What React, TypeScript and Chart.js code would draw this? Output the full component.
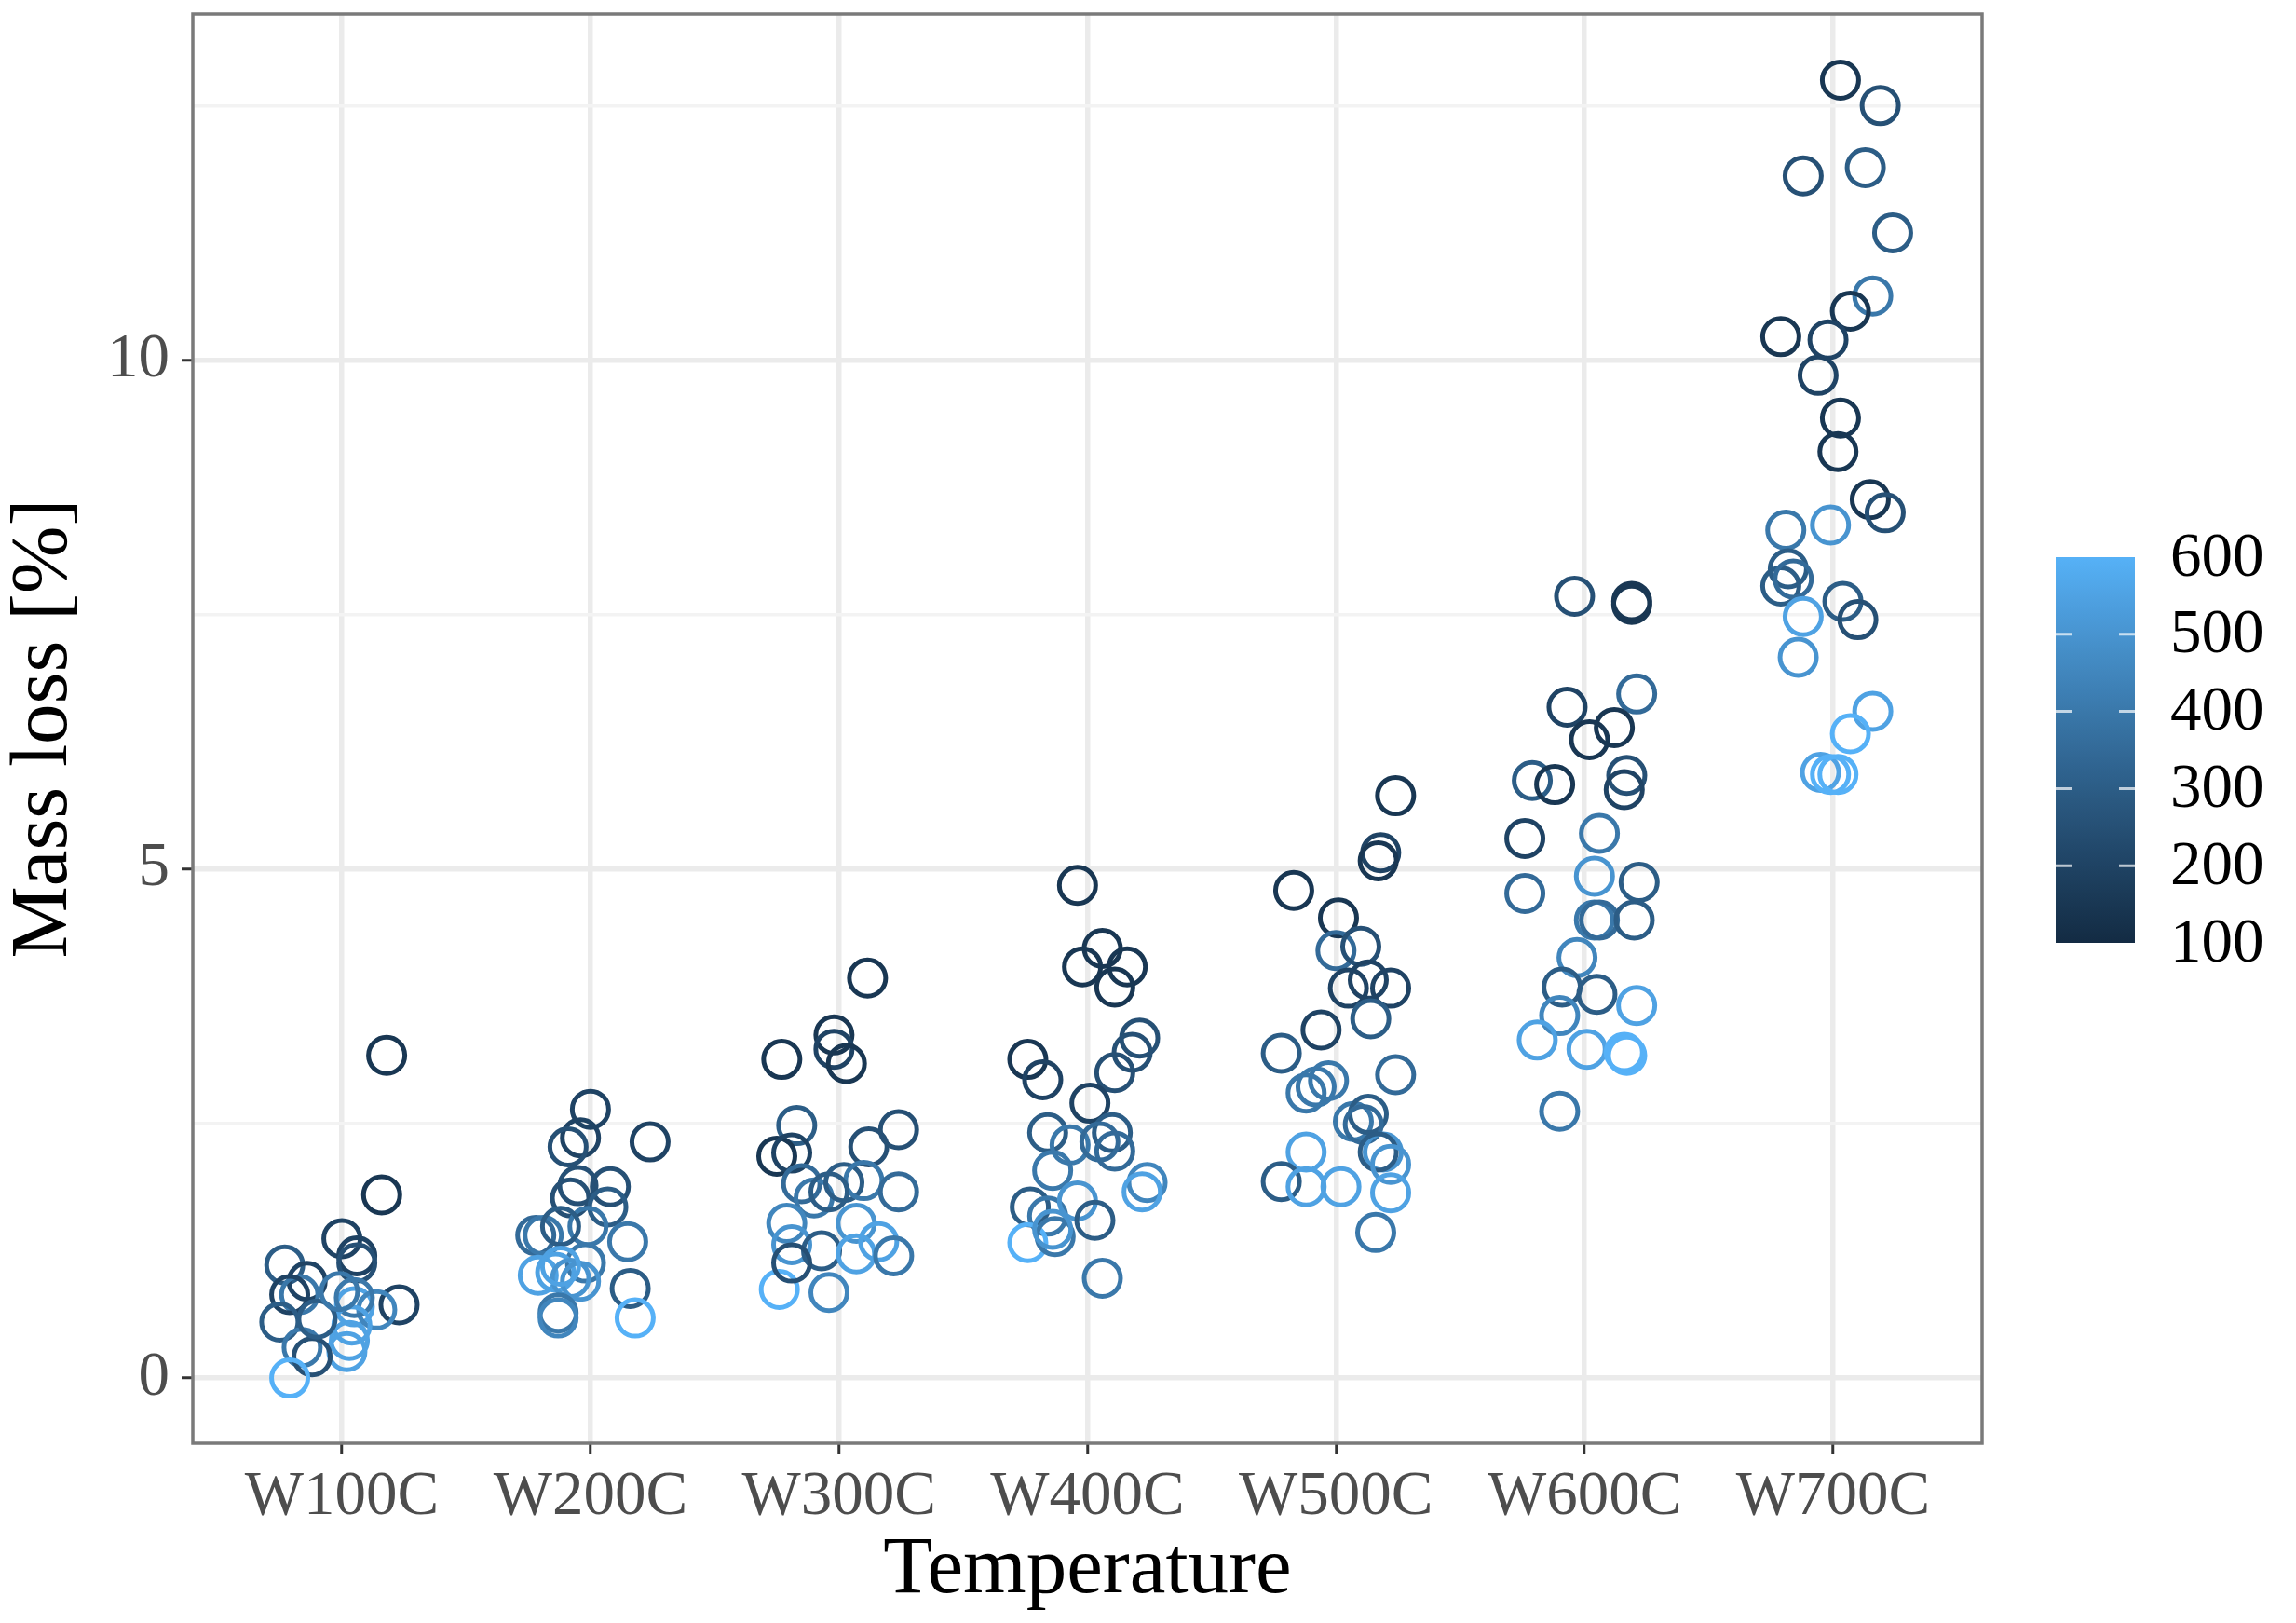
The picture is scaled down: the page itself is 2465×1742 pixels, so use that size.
import { useEffect, useRef } from "react"
import { Chart, registerables } from "chart.js"

Chart.register(...registerables)

const categories = ["W100C", "W200C", "W300C", "W400C", "W500C", "W600C", "W700C"]
const lossTicks = [0, 2.5, 5, 7.5, 10, 12.5]
const lossLabels = [0, 5, 10]
const shadeTicks = [100, 200, 300, 400, 500, 600]

// each point: [jitter from category centre, mass loss %, colour value]
const w100c = [
  [0.18, 3.17, 150], [0.16, 1.8, 150], [0.0, 1.37, 200], [0.06, 1.2, 200], [0.06, 1.13, 250],
  [-0.23, 1.11, 300], [-0.14, 0.95, 200], [-0.17, 0.82, 400], [-0.21, 0.82, 200], [-0.25, 0.55, 300],
  [0.23, 0.72, 200], [0.05, 0.7, 550], [0.14, 0.67, 450], [0.05, 0.79, 400], [0.04, 0.52, 550],
  [0.03, 0.37, 550], [0.02, 0.26, 550], [-0.16, 0.3, 400], [-0.12, 0.21, 250], [-0.21, 0.0, 600],
  [-0.1, 0.58, 300], [-0.01, 0.85, 400],
]
const w200c = [
  [0.0, 2.64, 200], [-0.04, 2.36, 200], [-0.09, 2.27, 250], [0.24, 2.32, 200], [-0.05, 1.89, 250],
  [0.08, 1.88, 250], [-0.08, 1.77, 250], [0.07, 1.68, 300], [-0.22, 1.4, 350], [-0.19, 1.4, 400],
  [-0.01, 1.49, 400], [0.15, 1.34, 400], [-0.12, 1.49, 300], [-0.02, 1.13, 400], [-0.21, 1.01, 550],
  [-0.14, 1.04, 550], [-0.08, 0.98, 500], [-0.04, 0.95, 500], [0.16, 0.88, 300], [-0.13, 0.64, 400],
  [-0.13, 0.59, 450], [0.18, 0.59, 600], [-0.12, 1.1, 550],
]
const w300c = [
  [0.115, 3.93, 150], [-0.23, 3.13, 150], [-0.02, 3.37, 150], [-0.02, 3.23, 200], [0.03, 3.09, 150],
  [-0.17, 2.48, 300], [-0.25, 2.18, 150], [-0.19, 2.21, 200], [0.12, 2.27, 250], [0.24, 2.44, 250],
  [-0.15, 1.91, 350], [-0.1, 1.77, 400], [0.02, 1.92, 300], [0.1, 1.94, 400], [0.24, 1.83, 350],
  [-0.21, 1.52, 450], [-0.19, 1.31, 500], [-0.07, 1.25, 300], [0.07, 1.52, 500], [0.07, 1.22, 550],
  [0.16, 1.34, 550], [0.22, 1.2, 400], [-0.24, 0.87, 600], [-0.04, 0.84, 450], [-0.19, 1.13, 250],
  [-0.04, 1.83, 300],
]
const w400c = [
  [-0.04, 4.84, 150], [0.06, 4.22, 150], [-0.02, 4.04, 150], [0.16, 4.04, 150], [0.11, 3.84, 150],
  [-0.24, 3.13, 150], [-0.18, 2.93, 200], [0.21, 3.34, 250], [0.18, 3.2, 250], [0.11, 3.0, 250],
  [0.01, 2.7, 200], [-0.16, 2.41, 300], [0.1, 2.41, 300], [-0.07, 2.29, 400], [0.11, 2.23, 350],
  [-0.14, 2.04, 400], [0.24, 1.92, 450], [0.22, 1.83, 550], [-0.23, 1.68, 300], [-0.16, 1.59, 400],
  [-0.04, 1.74, 500], [0.03, 1.55, 300], [-0.24, 1.33, 600], [-0.13, 1.39, 400], [-0.14, 1.46, 500],
  [0.06, 0.98, 400], [0.05, 2.32, 350],
]
const w500c = [
  [0.24, 5.72, 150], [0.18, 5.16, 200], [0.17, 5.08, 150], [-0.17, 4.79, 150], [0.01, 4.52, 150],
  [0.0, 4.2, 350], [0.1, 4.24, 250], [0.05, 3.83, 200], [0.13, 3.91, 200], [0.22, 3.83, 200],
  [0.14, 3.53, 300], [-0.06, 3.42, 200], [-0.22, 3.19, 300], [0.24, 2.98, 350], [-0.12, 2.8, 400],
  [-0.08, 2.86, 400], [-0.03, 2.92, 400], [0.07, 2.52, 400], [0.13, 2.59, 300], [0.11, 2.49, 350],
  [-0.12, 2.22, 550], [0.19, 2.22, 500], [0.17, 2.22, 300], [0.22, 2.1, 500], [-0.22, 1.93, 300],
  [-0.12, 1.88, 550], [0.02, 1.88, 550], [0.22, 1.82, 550], [0.16, 1.43, 400],
]
const w600c = [
  [-0.04, 7.68, 250], [0.19, 7.63, 150], [0.19, 7.6, 150], [-0.07, 6.59, 200], [0.21, 6.72, 350],
  [0.02, 6.27, 150], [0.12, 6.39, 150], [-0.21, 5.87, 300], [-0.12, 5.83, 150], [0.17, 5.92, 250],
  [0.16, 5.78, 200], [-0.24, 5.3, 200], [0.06, 5.35, 400], [-0.24, 4.76, 350], [0.04, 4.93, 500],
  [0.22, 4.87, 300], [0.04, 4.5, 400], [0.06, 4.5, 350], [0.2, 4.5, 300], [-0.03, 4.13, 450],
  [-0.09, 3.84, 300], [0.05, 3.77, 300], [0.21, 3.66, 550], [-0.1, 3.56, 450], [-0.19, 3.32, 550],
  [0.01, 3.23, 550], [0.16, 3.2, 600], [0.17, 3.17, 600], [-0.1, 2.62, 400],
]
const w700c = [
  [0.03, 12.75, 150], [0.19, 12.5, 250], [-0.12, 11.81, 250], [0.13, 11.89, 300], [0.24, 11.25, 300],
  [0.16, 10.63, 400], [0.07, 10.48, 150], [-0.21, 10.23, 150], [-0.02, 10.2, 200], [-0.06, 9.85, 200],
  [0.03, 9.43, 150], [0.02, 9.1, 150], [0.15, 8.63, 150], [0.21, 8.5, 250], [-0.19, 8.33, 400],
  [-0.01, 8.38, 500], [-0.18, 7.95, 300], [-0.21, 7.78, 300], [-0.16, 7.85, 350], [-0.12, 7.48, 550],
  [0.04, 7.63, 300], [0.1, 7.45, 250], [-0.14, 7.08, 500], [0.16, 6.55, 550], [0.07, 6.33, 600],
  [-0.05, 5.95, 550], [0.02, 5.93, 600], [-0.01, 5.93, 600],
]
const groups = [w100c, w200c, w300c, w400c, w500c, w600c, w700c]

const FONT = "'Liberation Serif', 'Times New Roman', serif"
const LOW = [19, 43, 67]
const HIGH = [86, 177, 247]

// ggplot-style gradient, interpolated in CIELAB
function toLab(rgb: number[]) {
  const lin = rgb.map((v) => {
    v /= 255
    return v <= 0.04045 ? v / 12.92 : Math.pow((v + 0.055) / 1.055, 2.4)
  })
  const x = (lin[0] * 0.4124 + lin[1] * 0.3576 + lin[2] * 0.1805) / 0.95047
  const y = lin[0] * 0.2126 + lin[1] * 0.7152 + lin[2] * 0.0722
  const z = (lin[0] * 0.0193 + lin[1] * 0.1192 + lin[2] * 0.9505) / 1.08883
  const f = (t: number) => (t > 0.008856 ? Math.cbrt(t) : 7.787 * t + 16 / 116)
  return [116 * f(y) - 16, 500 * (f(x) - f(y)), 200 * (f(y) - f(z))]
}

function fromLab([L, a, b]: number[]) {
  const fy = (L + 16) / 116
  const fx = fy + a / 500
  const fz = fy - b / 200
  const inv = (t: number) => (t ** 3 > 0.008856 ? t ** 3 : (t - 16 / 116) / 7.787)
  const x = inv(fx) * 0.95047
  const y = inv(fy)
  const z = inv(fz) * 1.08883
  const r = x * 3.2406 - y * 1.5372 - z * 0.4986
  const g = -x * 0.9689 + y * 1.8758 + z * 0.0415
  const bl = x * 0.0557 - y * 0.204 + z * 1.057
  const enc = (v: number) => {
    v = Math.max(0, Math.min(1, v))
    v = v <= 0.0031308 ? 12.92 * v : 1.055 * Math.pow(v, 1 / 2.4) - 0.055
    return Math.round(v * 255)
  }
  return `rgb(${enc(r)}, ${enc(g)}, ${enc(bl)})`
}

const lowLab = toLab(LOW)
const highLab = toLab(HIGH)
function shade(v: number) {
  const t = (v - 100) / 500
  return fromLab(lowLab.map((c, i) => c + (highLab[i] - c) * t))
}

const panelBorder = {
  id: "panelBorder",
  afterDraw(chart: any) {
    const { ctx, chartArea: a } = chart
    ctx.save()
    ctx.strokeStyle = "#7a7a7a"
    ctx.lineWidth = 3.5
    ctx.strokeRect(a.left, a.top, a.right - a.left, a.bottom - a.top)
    ctx.restore()
  },
}

const colourBar = {
  id: "colourBar",
  afterDraw(chart: any) {
    const { ctx, chartArea: a } = chart
    const left = a.right + 79
    const width = 85
    const top = 598
    const bottom = 1012
    ctx.save()
    const grad = ctx.createLinearGradient(0, bottom, 0, top)
    for (let i = 0; i <= 20; i++) grad.addColorStop(i / 20, shade(100 + 25 * i))
    ctx.fillStyle = grad
    ctx.fillRect(left, top, width, bottom - top)
    ctx.font = `67px ${FONT}`
    ctx.fillStyle = "#000"
    ctx.textAlign = "left"
    ctx.textBaseline = "middle"
    shadeTicks.forEach((v) => {
      const y = bottom - ((v - 100) / 500) * (bottom - top)
      if (v > 100 && v < 600) {
        ctx.strokeStyle = "rgba(255,255,255,0.7)"
        ctx.lineWidth = 3
        ctx.beginPath()
        ctx.moveTo(left, y)
        ctx.lineTo(left + 17, y)
        ctx.moveTo(left + width - 17, y)
        ctx.lineTo(left + width, y)
        ctx.stroke()
      }
      ctx.fillText(String(v), left + 123, y + 2)
    })
    ctx.restore()
  },
}

export default function App() {
  const chartRef = useRef<HTMLCanvasElement>(null)
  const chartInstance = useRef<Chart | null>(null)

  useEffect(() => {
    if (!chartRef.current) return
    if (chartInstance.current) chartInstance.current.destroy()
    const ctx = chartRef.current.getContext("2d")
    if (!ctx) return

    const isMajor = (v: number) => lossLabels.includes(v)

    chartInstance.current = new Chart(ctx, {
      type: "scatter",
      data: {
        datasets: groups.map((pts, gi) => ({
          label: categories[gi],
          data: pts.map(([dx, y]) => ({ x: gi + 1 + dx, y })),
          pointRadius: 19.5,
          pointBorderWidth: 5,
          pointBackgroundColor: "rgba(0,0,0,0)",
          pointBorderColor: pts.map(([, , c]) => shade(c)),
        })),
      },
      options: {
        animation: false,
        responsive: false,
        devicePixelRatio: 1,
        layout: { autoPadding: false, padding: { top: 15, right: 337, left: 0, bottom: 0 } },
        plugins: { legend: { display: false }, tooltip: { enabled: false } },
        scales: {
          x: {
            type: "linear",
            min: 0.4,
            max: 7.6,
            afterBuildTicks: (s: any) => {
              s.ticks = categories.map((_, i) => ({ value: i + 1 }))
            },
            afterFit: (s: any) => {
              s.height = 193
              s.paddingLeft = 0
              s.paddingRight = 0
            },
            ticks: {
              callback: (v: any) => categories[Math.round(v) - 1] ?? "",
              font: { family: FONT, size: 67 },
              color: "#4D4D4D",
              padding: 6,
              maxRotation: 0,
              autoSkip: false,
            },
            grid: { color: "#EBEBEB", lineWidth: 5.5, tickLength: 12, tickColor: "#333", tickWidth: 3 },
            border: { display: false },
            title: {
              display: true,
              text: "Temperature",
              font: { family: FONT, size: 87, lineHeight: 1.1 },
              color: "#000",
              padding: { top: 0, bottom: 8 },
            },
          },
          y: {
            min: -0.64,
            max: 13.4,
            afterBuildTicks: (s: any) => {
              s.ticks = lossTicks.map((v) => ({ value: v }))
            },
            afterFit: (s: any) => {
              s.width = 207
              s.paddingTop = 0
              s.paddingBottom = 0
            },
            ticks: {
              callback: (v: any) => (isMajor(v) ? String(v) : ""),
              font: { family: FONT, size: 67 },
              color: "#4D4D4D",
              padding: 13,
              autoSkip: false,
            },
            grid: {
              color: (c: any) => (isMajor(c.tick?.value) ? "#EBEBEB" : "#F3F3F3"),
              lineWidth: (c: any) => (isMajor(c.tick?.value) ? 5.5 : 3.5),
              tickColor: (c: any) => (isMajor(c.tick?.value) ? "#333" : "rgba(0,0,0,0)"),
              tickLength: 12,
              tickWidth: 3,
            },
            border: { display: false },
            title: {
              display: true,
              text: "Mass loss [%]",
              font: { family: FONT, size: 87, lineHeight: 1.1 },
              color: "#000",
              padding: { top: 0, bottom: 0 },
            },
          },
        },
      },
      plugins: [panelBorder, colourBar],
    } as any)

    return () => {
      if (chartInstance.current) {
        chartInstance.current.destroy()
        chartInstance.current = null
      }
    }
  }, [])

  return (
    <div style={{ position: "fixed", left: 0, top: 0, width: 2465, height: 1742, background: "#fff" }}>
      <canvas ref={chartRef} width={2465} height={1742} style={{ display: "block" }} />
    </div>
  )
}
